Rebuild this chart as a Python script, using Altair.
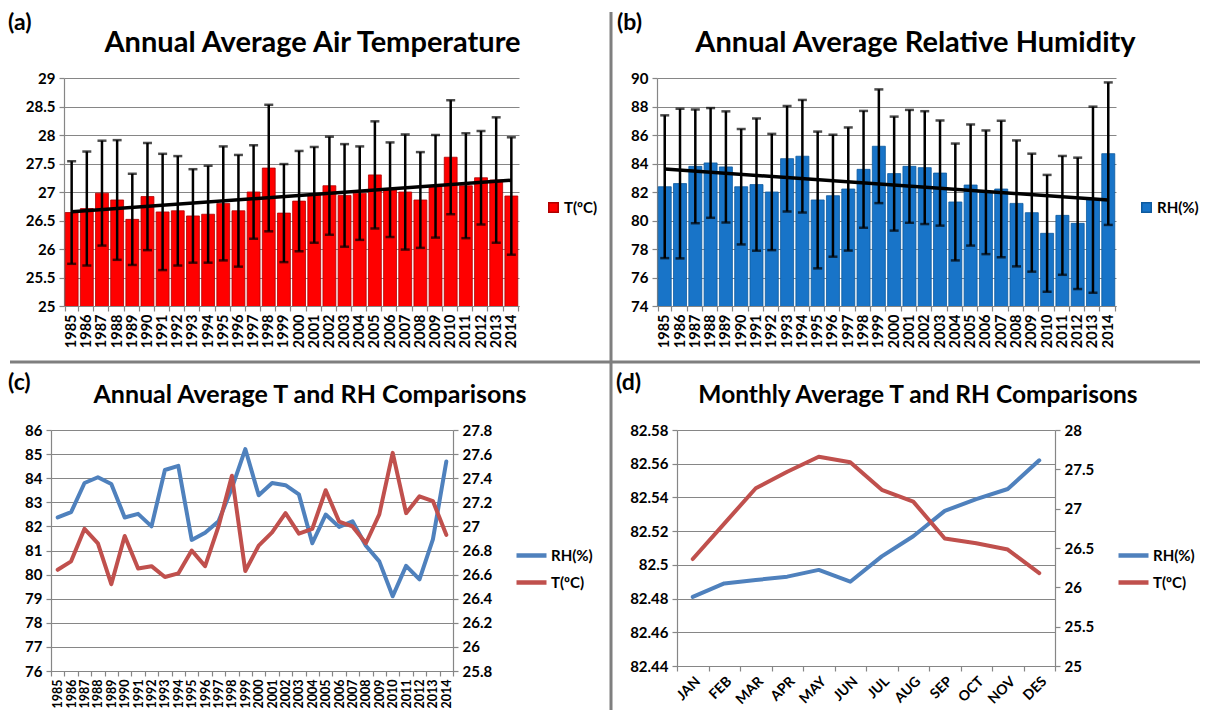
import altair as alt
import pandas as pd

# ---------------- data ----------------
years = [1985, 1986, 1987, 1988, 1989, 1990, 1991, 1992, 1993, 1994,
         1995, 1996, 1997, 1998, 1999, 2000, 2001, 2002, 2003, 2004,
         2005, 2006, 2007, 2008, 2009, 2010, 2011, 2012, 2013, 2014]
t_mean = [26.64, 26.71, 26.98, 26.86, 26.52, 26.92, 26.65, 26.67, 26.58, 26.61,
          26.80, 26.67, 27.00, 27.42, 26.63, 26.84, 26.95, 27.11, 26.94, 26.98,
          27.30, 27.04, 27.00, 26.86, 27.10, 27.61, 27.11, 27.25, 27.21, 26.93]
t_sd = [0.90, 1.00, 0.92, 1.05, 0.80, 0.94, 1.02, 0.96, 0.82, 0.85,
        1.00, 0.98, 0.82, 1.11, 0.86, 0.88, 0.84, 0.86, 0.90, 0.82,
        0.94, 0.83, 1.01, 0.84, 0.90, 1.00, 0.92, 0.82, 1.10, 1.03]
rh_mean = [82.37, 82.59, 83.80, 84.04, 83.76, 82.37, 82.52, 82.00, 84.34, 84.51,
           81.44, 81.74, 82.21, 83.59, 85.21, 83.29, 83.80, 83.71, 83.33, 81.30,
           82.49, 81.98, 82.21, 81.20, 80.55, 79.10, 80.36, 79.80, 81.46, 84.69]
rh_sd = [5.01, 5.25, 3.99, 3.85, 3.90, 4.05, 4.64, 4.08, 3.70, 3.95,
         4.80, 4.28, 4.32, 4.10, 3.99, 4.00, 3.96, 3.96, 3.69, 4.10,
         4.25, 4.34, 4.79, 4.42, 4.14, 4.10, 4.17, 4.61, 6.53, 5.00]

months = ["JAN", "FEB", "MAR", "APR", "MAY", "JUN", "JUL", "AUG", "SEP", "OCT", "NOV", "DES"]
rh_month = [82.481, 82.489, 82.491, 82.493, 82.497, 82.490, 82.505, 82.517, 82.532, 82.539, 82.545, 82.562]
t_month = [26.36, 26.81, 27.26, 27.47, 27.66, 27.59, 27.24, 27.09, 26.62, 26.56, 26.48, 26.18]

t_ticks = [25, 25.5, 26, 26.5, 27, 27.5, 28, 28.5, 29]
rh_ticks = [74, 76, 78, 80, 82, 84, 86, 88, 90]
c_left_ticks = [76, 77, 78, 79, 80, 81, 82, 83, 84, 85, 86]
c_right_ticks = [25.8, 26.0, 26.2, 26.4, 26.6, 26.8, 27.0, 27.2, 27.4, 27.6, 27.8]
d_left_ticks = [82.44, 82.46, 82.48, 82.5, 82.52, 82.54, 82.56, 82.58]
d_right_ticks = [25, 25.5, 26, 26.5, 27, 27.5, 28]

annual = pd.DataFrame({"year": years, "T": t_mean, "T_sd": t_sd, "RH": rh_mean, "RH_sd": rh_sd})
monthly = pd.DataFrame({"month": months, "RH": rh_month, "T": t_month})
one = pd.DataFrame({"k": [0]})

# ---------------- styles ----------------
FONT = "Lato"
GRID = "#868686"
BORDER = "#7f7f7f"
BLUE = "#4F81BD"
RED = "#C0504D"


def title(text, size, dx, offset):
    return alt.TitleParams(text=text, anchor="middle", frame="group", dx=dx, offset=offset,
                           font=FONT, fontSize=size, fontWeight="bold", color="black")


def year_axis(size):
    return alt.Axis(title=None, labelAngle=-90, labelFontSize=size, labelOverlap=False,
                    tickBand="extent", tickSize=5, labelPadding=3, grid=False)


def bar_panel(field, sd_field, label, fill, stroke, ticks, ttl, width, dx):
    x_axis = year_axis(14.5)
    x_scale = alt.Scale(type="band", paddingInner=0.15, paddingOuter=0.08)
    x_enc = alt.X("year:O", title=None, scale=x_scale, axis=x_axis)
    x_c = alt.X("year:O", title=None, bandPosition=0.5, scale=x_scale, axis=x_axis)
    y_scale = alt.Scale(domain=[ticks[0], ticks[-1]], nice=False, zero=False)
    y_axis = alt.Axis(values=ticks, format="~g", labelFontSize=15, tickSize=5,
                      labelPadding=4, grid=True, labelOverlap=False)
    base = alt.Chart(annual).transform_calculate(
        series=f"'{label}'",
        lo=f"datum['{field}'] - datum['{sd_field}']",
        hi=f"datum['{field}'] + datum['{sd_field}']",
    )
    bars = base.mark_bar(stroke=stroke, strokeWidth=0.8, clip=True).encode(
        x=x_enc,
        y=alt.Y(f"{field}:Q", title=None, scale=y_scale, axis=y_axis),
        color=alt.Color("series:N", scale=alt.Scale(domain=[label], range=[fill]),
                        legend=alt.Legend(orient="none", legendX=482, legendY=122, title=None,
                                          symbolType="square", symbolSize=90, padding=0,
                                          labelFont=FONT, labelFontSize=15, labelFontWeight="bold",
                                          labelColor="black", labelOffset=3)),
    )
    err = base.mark_rule(color="black", strokeWidth=2.5).encode(
        x=x_c, y=alt.Y("lo:Q", title=None, scale=y_scale, axis=y_axis), y2="hi:Q")
    cap_lo = base.mark_tick(color="black", thickness=2.5, size=9).encode(
        x=x_enc, y=alt.Y("lo:Q", title=None, scale=y_scale, axis=y_axis))
    cap_hi = base.mark_tick(color="black", thickness=2.5, size=9).encode(
        x=x_enc, y=alt.Y("hi:Q", title=None, scale=y_scale, axis=y_axis))
    trend = alt.Chart(annual).transform_regression("year", field).mark_line(
        color="black", strokeWidth=3.5).encode(
        x=x_c, y=alt.Y(f"{field}:Q", title=None, scale=y_scale, axis=y_axis))
    return alt.layer(bars, err, cap_lo, cap_hi, trend).properties(
        width=width, height=228, title=title(ttl, 29, dx, 13))


def line_legend(lx, ly):
    return alt.Legend(orient="none", legendX=lx, legendY=ly, title=None, symbolType="stroke",
                      symbolSize=900, symbolStrokeWidth=4.5, padding=0, rowPadding=0,
                      labelFont=FONT, labelFontSize=15, labelFontWeight="bold",
                      labelColor="black", labelOffset=2)


def dual_panel(data, xfield, sort, xaxis, left_dom, left_ticks, left_fmt,
               right_dom, right_ticks, ttl, width, height, dx, lx, tsize):
    x_enc = alt.X(f"{xfield}:O", title=None, sort=sort, bandPosition=0.5,
                  scale=alt.Scale(type="band", paddingInner=0, paddingOuter=0), axis=xaxis)
    color = alt.Color("series:N", scale=alt.Scale(domain=["RH(%)", "T(ºC)"], range=[BLUE, RED]),
                      legend=line_legend(lx, 108))
    rh = alt.Chart(data).transform_calculate(series="'RH(%)'").mark_line(
        strokeWidth=4, strokeJoin="round", strokeCap="round").encode(
        x=x_enc,
        y=alt.Y("RH:Q", title=None, scale=alt.Scale(domain=left_dom, nice=False, zero=False),
                axis=alt.Axis(values=left_ticks, format=left_fmt, labelFontSize=15, tickSize=5,
                              labelPadding=4, grid=True, labelOverlap=False)),
        color=color)
    tt = alt.Chart(data).transform_calculate(series="'T(ºC)'").mark_line(
        strokeWidth=4, strokeJoin="round", strokeCap="round").encode(
        x=x_enc,
        y=alt.Y("T:Q", title=None, scale=alt.Scale(domain=right_dom, nice=False, zero=False),
                axis=alt.Axis(orient="right", values=right_ticks, format="~g", labelFontSize=15,
                              tickSize=5, labelPadding=4, grid=False, labelOverlap=False)),
        color=color)
    return alt.layer(rh, tt).resolve_scale(y="independent").properties(
        width=width, height=height, title=title(ttl, tsize, dx, 15))


panel_a = bar_panel("T", "T_sd", "T(ºC)", "#FF0000", "#B00000", t_ticks,
                    "Annual Average Air Temperature", 455, 21)
panel_b = bar_panel("RH", "RH_sd", "RH(%)", "#1874C8", "#0E5A9E", rh_ticks,
                    "Annual Average Relative Humidity", 459, 29)

panel_c = dual_panel(annual, "year", None, year_axis(12.5), [76, 86], c_left_ticks, "~g",
                     [25.8, 27.8], c_right_ticks, "Annual Average T and RH Comparisons",
                     402, 241, 58, 463, 25)
month_axis = alt.Axis(title=None, labelAngle=-45, labelFontSize=14, labelOverlap=False,
                      tickBand="extent", tickSize=5, labelPadding=3, grid=False)
panel_d = dual_panel(monthly, "month", months, month_axis, [82.44, 82.58], d_left_ticks, ".4~r",
                     [25, 28], d_right_ticks, "Monthly Average T and RH Comparisons",
                     378, 236, 52, 439, 24.5)


# ---------------- spacers, panel letters, dividers ----------------
def letter(txt, x, y):
    return alt.Chart(one).mark_text(font=FONT, fontSize=23, fontWeight="bold", align="left",
                                    baseline="top", color="black").encode(
        x=alt.value(x), y=alt.value(y), text=alt.value(txt))


def blank(w):
    return alt.Chart(one).mark_point(opacity=0).encode(
        x=alt.value(0), y=alt.value(0)).properties(width=w, height=1)


sp1 = alt.layer(
    alt.Chart(one).mark_point(opacity=0).encode(x=alt.value(0), y=alt.value(0)),
    alt.Chart(one).mark_rule(color=BORDER, strokeWidth=3).encode(
        x=alt.value(571), y=alt.value(-66), y2=alt.value(632)),
    alt.Chart(one).mark_rule(color=BORDER, strokeWidth=3).encode(
        x=alt.value(-30), x2=alt.value(1160), y=alt.value(284)),
    letter("(a)", -32, -66),
    letter("(b)", 577, -66),
    letter("(c)", -32, 294),
    letter("(d)", 576, 294),
).properties(width=24, height=1)

row1 = alt.hconcat(sp1, panel_a, blank(138), panel_b, spacing=0, bounds="flush"
                   ).resolve_scale(color="independent")
row2 = alt.hconcat(blank(11), panel_c, blank(224), panel_d, spacing=0, bounds="flush"
                   ).resolve_scale(color="independent")

chart = alt.vconcat(row1, row2, spacing=352, bounds="flush").resolve_scale(
    color="independent").properties(
    padding={"left": 0, "top": 2, "right": 0, "bottom": 0}
).configure_view(stroke=None).configure_axis(
    labelFont=FONT, labelFontWeight="bold", labelColor="black",
    domainColor=GRID, tickColor=GRID, gridColor=GRID,
    domainWidth=1.2, tickWidth=1.2, gridWidth=1.2,
)

chart.save("out.html", embed_options={"renderer": "svg", "actions": False})
